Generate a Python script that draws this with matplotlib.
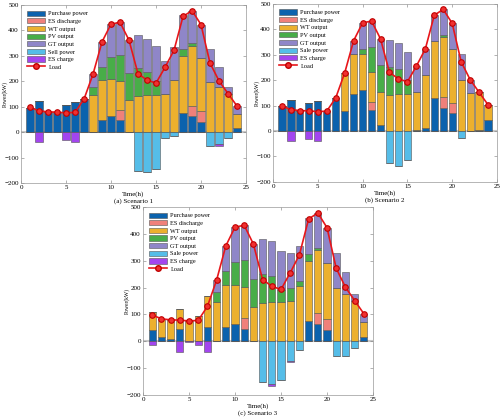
import numpy as np
import matplotlib.pyplot as plt
from matplotlib.patches import Patch
from matplotlib.lines import Line2D

plt.rcParams['font.family'] = ['Liberation Serif', 'DejaVu Serif']

hours = np.arange(1, 25)
load = [98, 84, 80, 79, 76, 78, 130, 228, 355, 425, 432, 362,
        230, 205, 193, 255, 322, 455, 478, 423, 272, 202, 152, 103]

# scenario 1
s1_purchase = [97, 123, 80, 78, 107, 120, 130, 0, 50, 65, 47, 0, 0, 0, 0, 0, 0, 77, 63, 42, 0, 0, 0, 15]
s1_esdis = [0, 0, 0, 0, 0, 0, 0, 0, 0, 0, 39, 0, 0, 0, 0, 0, 0, 0, 41, 41, 0, 0, 0, 0]
s1_wt = [0, 0, 0, 0, 0, 0, 0, 145, 155, 143, 116, 127, 142, 145, 145, 150, 207, 223, 234, 209, 198, 178, 152, 57]
s1_pv = [0, 0, 0, 0, 0, 0, 0, 33, 50, 87, 101, 106, 111, 91, 55, 0, 0, 27, 12, 0, 0, 0, 0, 0]
s1_gt = [0, 0, 0, 0, 0, 0, 0, 50, 100, 130, 129, 128, 130, 131, 137, 130, 129, 133, 128, 131, 130, 80, 25, 31]
s1_sell = [0, 0, 0, 0, 0, 0, 0, 0, 0, 0, 0, 0, -151, -157, -143, -22, -15, 0, 0, 0, -55, -45, -24, 0]
s1_esch = [0, -40, 0, 0, -30, -40, 0, 0, 0, 0, 0, 0, 0, 0, 0, 0, 0, 0, 0, 0, 0, -8, 0, 0]

# scenario 2
s2_purchase = [97, 122, 80, 108, 116, 80, 130, 80, 147, 160, 82, 25, 0, 0, 0, 3, 12, 128, 90, 70, 0, 0, 3, 45]
s2_esdis = [0, 0, 0, 0, 0, 0, 0, 0, 0, 0, 31, 0, 0, 0, 0, 0, 0, 0, 43, 40, 0, 0, 0, 0]
s2_wt = [0, 0, 0, 0, 0, 0, 0, 148, 155, 142, 117, 130, 142, 145, 145, 150, 208, 227, 235, 212, 200, 150, 149, 58]
s2_pv = [0, 0, 0, 0, 0, 0, 0, 0, 0, 21, 102, 105, 110, 100, 55, 0, 0, 0, 10, 0, 0, 0, 0, 0]
s2_gt = [0, 0, 0, 0, 0, 0, 0, 0, 53, 102, 100, 102, 105, 102, 110, 102, 102, 100, 100, 101, 102, 52, 0, 0]
s2_sell = [0, 0, 0, 0, 0, 0, 0, 0, 0, 0, 0, 0, -125, -138, -115, 0, 0, 0, 0, 0, -28, 0, 0, 0]
s2_esch = [0, -38, 0, -30, -40, 0, 0, 0, 0, 0, 0, 0, 0, 0, 0, 0, 0, 0, 0, 0, 0, 0, 0, 0]

# scenario 3
s3_purchase = [42, 15, 8, 47, 0, 0, 55, 0, 55, 65, 47, 0, 0, 0, 0, 0, 0, 77, 63, 42, 0, 0, 0, 15]
s3_esdis = [0, 0, 0, 0, 0, 0, 0, 0, 0, 0, 39, 0, 0, 0, 0, 0, 0, 0, 41, 41, 0, 0, 0, 0]
s3_wt = [68, 69, 72, 73, 76, 95, 115, 145, 155, 143, 116, 127, 142, 145, 145, 150, 207, 223, 236, 209, 198, 176, 152, 57]
s3_pv = [0, 0, 0, 0, 0, 0, 0, 38, 50, 87, 101, 106, 110, 98, 45, 50, 18, 26, 8, 0, 0, 0, 0, 0]
s3_gt = [0, 0, 0, 0, 0, 0, 0, 45, 95, 130, 129, 129, 130, 129, 146, 130, 131, 134, 130, 131, 130, 82, 25, 31]
s3_sell = [0, 0, 0, 0, 0, 0, 0, 0, 0, 0, 0, 0, -152, -158, -143, -72, -33, 0, 0, 0, -55, -55, -24, 0]
s3_esch = [-12, 0, 0, -40, -3, -15, -40, 0, 0, 0, 0, 0, 0, -7, 0, -3, 0, 0, 0, 0, 0, 0, 0, 0]

names = ['Purchase power', 'ES discharge', 'WT output', 'PV output', 'GT output']
colors = ['#0b62ad', '#f0807a', '#ecb02e', '#48ad48', '#8f86c8']
sell_color = '#55bde8'
esch_color = '#a345ef'

fig = plt.figure(figsize=(5, 4.19), dpi=100)


def draw(ax, pos, neg, sell_name, title):
    bottom = np.zeros(24)
    for vals, c in zip(pos, colors):
        v = np.array(vals, float)
        ax.bar(hours, v, 0.8, bottom=bottom, color=c, edgecolor='#555555', linewidth=0.4, zorder=2)
        bottom += v
    nb = np.zeros(24)
    for vals, c in zip(neg, [sell_color, esch_color]):
        v = np.array(vals, float)
        ax.bar(hours, v, 0.8, bottom=nb, color=c, edgecolor='#555555', linewidth=0.4, zorder=2)
        nb += v
    ax.axhline(0, color='#c8c8c8', lw=1.5, zorder=1)
    ax.plot(hours, load, '-o', color='#e8161b', lw=1.2, ms=4,
            mfc='#f03030', mec='#c00000', mew=0.8, zorder=3)
    ax.set_xlim(0, 25)
    ax.set_ylim(-200, 500)
    ax.set_xticks([0, 5, 10, 15, 20, 25])
    ax.set_yticks(range(-200, 501, 100))
    ax.tick_params(direction='in', top=True, right=True, labelsize=5, length=2, width=0.4, pad=1.5, color='#777777')
    for s in ax.spines.values():
        s.set_color('#999999')
        s.set_linewidth(0.5)
    ax.set_ylabel('Power(kW)', fontsize=4)
    ax.yaxis.set_label_coords(-0.058, 0.5)
    ax.set_xlabel('Time(h)\n' + title, fontsize=5, labelpad=1)
    handles = [Patch(facecolor=c, edgecolor='#555555', linewidth=0.4) for c in colors]
    handles += [Patch(facecolor=sell_color, edgecolor='#555555', linewidth=0.4),
                Patch(facecolor=esch_color, edgecolor='#555555', linewidth=0.4),
                Line2D([], [], color='#e8161b', marker='o', lw=1.2, ms=4, mfc='#f03030', mec='#c00000')]
    labels = names + [sell_name, 'ES charge', 'Load']
    ax.legend(handles, labels, loc='upper left', fontsize=4.5, frameon=False,
              handlelength=2.9, handleheight=0.9, handletextpad=0.6,
              labelspacing=0.3, borderaxespad=0.5)


ax1 = fig.add_axes([0.042, 0.563, 0.45, 0.425])
draw(ax1, [s1_purchase, s1_esdis, s1_wt, s1_pv, s1_gt], [s1_sell, s1_esch], 'Sell power', '(a) Scenario 1')

ax2 = fig.add_axes([0.546, 0.566, 0.448, 0.425])
draw(ax2, [s2_purchase, s2_esdis, s2_wt, s2_pv, s2_gt], [s2_sell, s2_esch], 'Sale power', '(b) Scenario 2')

ax3 = fig.add_axes([0.286, 0.057, 0.46, 0.449])
draw(ax3, [s3_purchase, s3_esdis, s3_wt, s3_pv, s3_gt], [s3_sell, s3_esch], 'Sale power', '(c) Scenario 3')

fig.savefig('out.png', dpi=100)
